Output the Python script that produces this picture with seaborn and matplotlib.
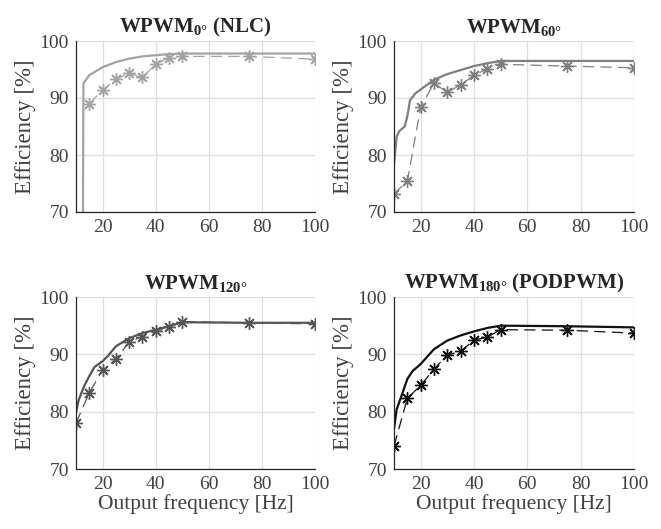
import numpy as np
import pandas as pd
import matplotlib
matplotlib.use("Agg")
import matplotlib.pyplot as plt
import seaborn as sns

# ---- data ----
freq_meas = [10, 15, 20, 25, 30, 35, 40, 45, 50, 75, 100]

# WPWM 0 deg (NLC) - measured (no point at 10 Hz)
tl_meas_x = [15, 20, 25, 30, 35, 40, 45, 50, 75, 100]
tl_meas_y = [89.0, 91.4, 93.3, 94.3, 93.6, 95.9, 97.1, 97.3, 97.3, 96.8]
tl_model_x = [12.6, 12.8, 15, 20, 25, 30, 35, 40, 45, 50, 60, 75, 100]
tl_model_y = [69.0, 92.6, 94.0, 95.4, 96.3, 96.9, 97.3, 97.5, 97.7, 97.8, 97.8, 97.8, 97.8]

# WPWM 60 deg
tr_meas_y = [73.2, 75.4, 88.4, 92.6, 91.0, 92.3, 94.0, 95.1, 95.9, 95.6, 95.3]
tr_model_x = [10, 11, 12, 14, 15, 16, 18, 20, 25, 30, 35, 40, 45, 50, 75, 100]
tr_model_y = [78.3, 83.2, 84.2, 85.0, 86.8, 89.6, 90.8, 91.5, 93.2, 94.2, 94.9, 95.6, 96.1, 96.5, 96.5, 96.5]

# WPWM 120 deg
bl_meas_y = [78.0, 83.3, 87.2, 89.2, 92.1, 93.1, 94.0, 94.7, 95.7, 95.5, 95.3]
bl_model_x = [10, 11, 13, 15, 17, 20, 22, 25, 30, 35, 40, 45, 50, 75, 100]
bl_model_y = [79.8, 82.0, 84.4, 86.2, 87.8, 88.8, 89.7, 91.4, 92.8, 93.7, 94.3, 94.9, 95.6, 95.5, 95.5]

# WPWM 180 deg (PODPWM)
br_meas_y = [74.0, 82.3, 84.6, 87.4, 89.9, 90.5, 92.5, 93.0, 94.3, 94.2, 93.7]
br_model_x = [10, 11, 13, 15, 17, 20, 25, 30, 35, 40, 45, 50, 75, 100]
br_model_y = [77.0, 80.4, 83.0, 85.7, 87.1, 88.3, 90.9, 92.4, 93.3, 94.0, 94.6, 95.0, 94.9, 94.7]

titles = [r"WPWM$_{\mathbf{0°}}$ (NLC)", r"WPWM$_{\mathbf{60°}}$",
          r"WPWM$_{\mathbf{120°}}$", r"WPWM$_{\mathbf{180°}}$ (PODPWM)"]
colors = ["#a3a3a3", "#7f7f7f", "#555555", "#111111"]
xticks = [20, 40, 60, 80, 100]
yticks = [70, 80, 90, 100]

sns.set_theme(style="whitegrid")
plt.rcParams["font.family"] = ["Liberation Serif", "DejaVu Serif"]
plt.rcParams["mathtext.fontset"] = "custom"
plt.rcParams["mathtext.rm"] = "Liberation Serif"
plt.rcParams["mathtext.bf"] = "Liberation Serif:bold"
plt.rcParams["mathtext.it"] = "Liberation Serif:italic"

fig = plt.figure(figsize=(6.61, 5.29), dpi=100)
fig.patch.set_facecolor("white")

W, H = 661, 529
boxes = [(76, 41, 315, 212), (394, 41, 634, 212), (76, 297, 315, 469), (394, 297, 634, 469)]

panels = [
    (tl_meas_x, tl_meas_y, tl_model_x, tl_model_y),
    (freq_meas, tr_meas_y, tr_model_x, tr_model_y),
    (freq_meas, bl_meas_y, bl_model_x, bl_model_y),
    (freq_meas, br_meas_y, br_model_x, br_model_y),
]

for i, ((x0, y0, x1, y1), (mx, my, sx, sy)) in enumerate(zip(boxes, panels)):
    ax = fig.add_axes([x0 / W, 1 - y1 / H, (x1 - x0) / W, (y1 - y0) / H])
    c = colors[i]
    df_model = pd.DataFrame({"f": sx, "eff": sy})
    df_meas = pd.DataFrame({"f": mx, "eff": my})
    sns.lineplot(data=df_model, x="f", y="eff", ax=ax, color=c, lw=1.6, sort=False)
    sns.lineplot(data=df_meas, x="f", y="eff", ax=ax, color=c, lw=0.9,
                 linestyle=(0, (9, 5)), marker=(8, 2, 0), markersize=9,
                 markeredgecolor=c, markeredgewidth=1.0, sort=False)
    ax.set_xlim(10, 100)
    ax.set_ylim(70, 100)
    ax.set_xticks(xticks)
    ax.set_yticks(yticks)
    ax.grid(True, color="#dedede", lw=0.9)
    for s in ["top", "right"]:
        ax.spines[s].set_visible(False)
    for s in ["left", "bottom"]:
        ax.spines[s].set_color("#262626")
        ax.spines[s].set_linewidth(0.9)
    ax.tick_params(direction="in", length=4, width=0.8, colors="#262626",
                   labelcolor="#404040", labelsize=14, pad=5)
    ax.set_ylabel("Efficiency [%]", fontsize=16.5, color="#404040", labelpad=3)
    if i >= 2:
        ax.set_xlabel("Output frequency [Hz]", fontsize=15.5, color="#404040", labelpad=1)
    else:
        ax.set_xlabel("")
    ax.set_title(titles[i], fontsize=15, fontweight="bold", pad=6)

fig.savefig("out.png", dpi=100)
